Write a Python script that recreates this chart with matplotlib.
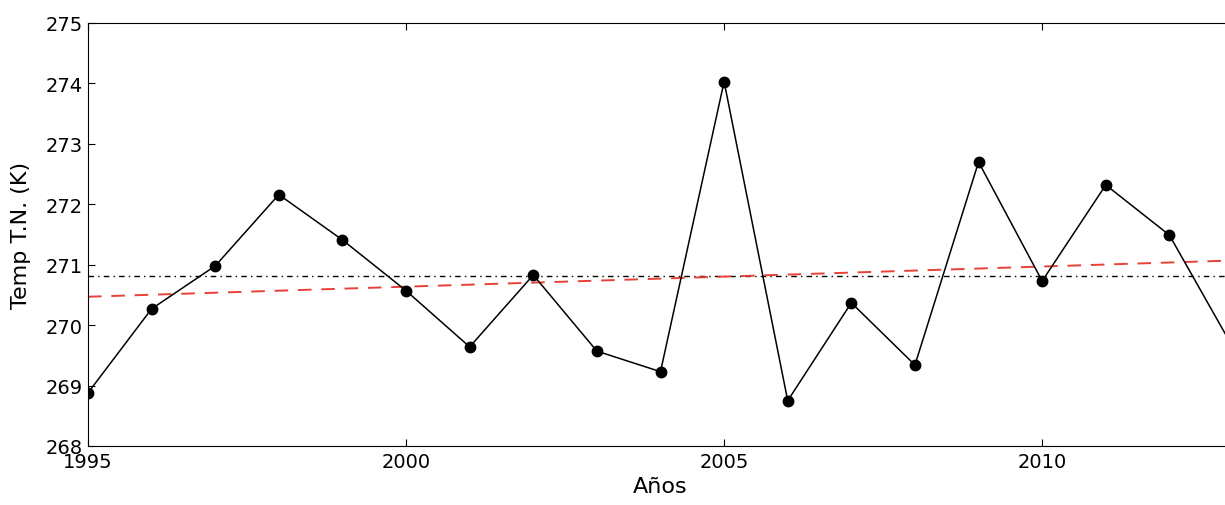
import numpy as np
import matplotlib
matplotlib.use('Agg')
import matplotlib.pyplot as plt

years = [1995, 1996, 1997, 1998, 1999, 2000, 2001, 2002, 2003, 2004,
         2005, 2006, 2007, 2008, 2009, 2010, 2011, 2012, 2013]
temp = [268.88, 270.27, 270.98, 272.16, 271.41, 270.57, 269.64, 270.83, 269.57, 269.23,
        274.03, 268.75, 270.37, 269.34, 272.70, 270.73, 272.32, 271.49, 269.63]

mean_temp = 270.81
trend_years = [1995, 2013]
trend_vals = [270.47, 271.07]

fig = plt.figure(figsize=(12.25, 5.06), dpi=100)
# the right edge of the axes runs a few pixels past the figure, as in the cropped original
ax = fig.add_axes([88/1225, 1 - 447/506, 1145/1225, (447 - 24)/506])

ax.plot(years, temp, color='black', linewidth=1.1, marker='o', markersize=7.5, zorder=3)
ax.axhline(mean_temp, color='black', linestyle='-.', linewidth=1, dashes=(4, 3, 1, 3))
ax.plot(trend_years, trend_vals, color='#e8413a', linestyle='--', linewidth=1.4, dashes=(7, 5))

ax.set_xlim(1995, 2013)
ax.set_ylim(268, 275)
ax.set_xticks([1995, 2000, 2005, 2010])
ax.set_yticks(range(268, 276))
ax.tick_params(direction='in', top=True, right=True, labelsize=14, length=5, pad=4)
ax.set_xlabel('Años', fontsize=16, labelpad=4)
ax.set_ylabel('Temp T.N. (K)', fontsize=16, labelpad=10)

fig.savefig('out.png', dpi=100)
